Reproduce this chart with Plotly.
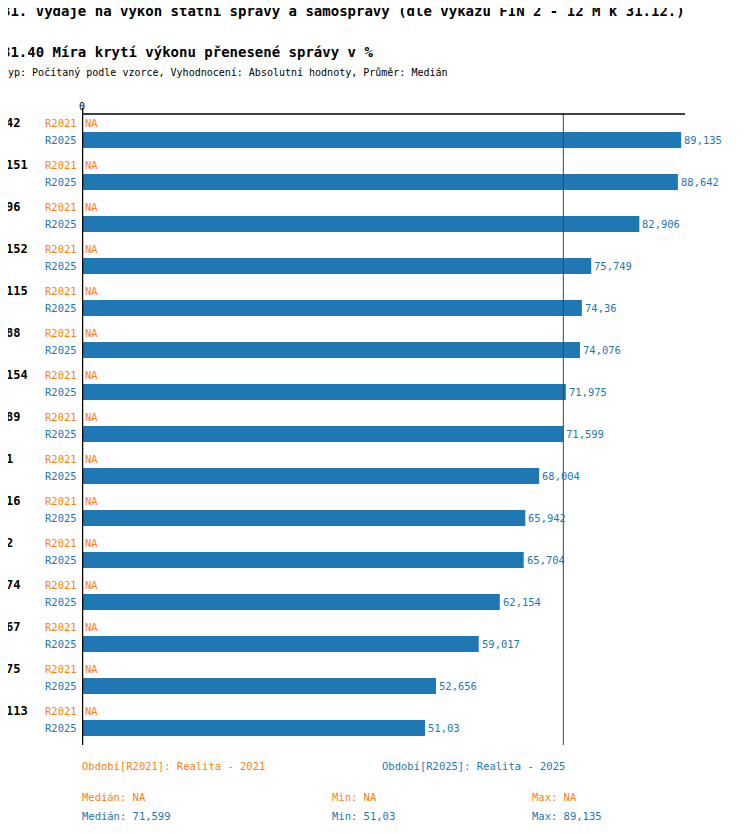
import plotly.graph_objects as go

groups = ["42","151","96","152","115","88","154","89","1","16","2","74","67","75","113"]
r2025 = [89.135,88.642,82.906,75.749,74.36,74.076,71.975,71.599,68.004,65.942,65.704,62.154,59.017,52.656,51.03]
median, vmin, vmax = 71.599, 51.03, 89.135
ORANGE = "#ff7f0e"; BLUE = "#1f77b4"
FONT = "DejaVu Sans Mono"
OFF = 17/42

def fmt(v):
    return ("%g" % v).replace(".", ",")

ys = [i + OFF for i in range(len(groups))]
fig = go.Figure(go.Bar(x=r2025, y=ys, orientation="h", width=0.38, marker_color=BLUE,
                       marker_line_width=0, hoverinfo="skip"))
ann = []
for i, g in enumerate(groups):
    ann.append(dict(x=-0.13, xref="paper", y=i, yref="y", text=g, showarrow=False, xanchor="left",
                    font=dict(family=FONT, size=12, color="black", weight="bold")))
    ann.append(dict(x=-0.005, xref="paper", y=i, yref="y", text="R2021", showarrow=False, xanchor="right",
                    font=dict(family=FONT, size=10.5, color=ORANGE)))
    ann.append(dict(x=-0.005, xref="paper", y=i + OFF, yref="y", text="R2025", showarrow=False, xanchor="right",
                    font=dict(family=FONT, size=10.5, color=BLUE)))
    ann.append(dict(x=0, y=i, text="NA", showarrow=False, xanchor="left", xshift=1,
                    font=dict(family=FONT, size=10.5, color=ORANGE)))
    ann.append(dict(x=r2025[i], y=i + OFF, text=fmt(r2025[i]), showarrow=False, xanchor="left", xshift=1,
                    font=dict(family=FONT, size=10.5, color=BLUE)))

def pt(x, y, text, color, size=10.5, bold=False):
    ann.append(dict(x=x, y=y, xref="paper", yref="paper", text=text, showarrow=False,
                    xanchor="left", yanchor="middle",
                    font=dict(family=FONT, size=size, color=color, weight="bold" if bold else "normal")))

pt(-0.136, 1.163, "31. Výdaje na výkon státní správy a samosprávy (dle výkazu FIN 2 - 12 M k 31.12.)", "black", 14, True)
pt(-0.136, 1.098, "31.40 Míra krytí výkonu přenesené správy v %", "black", 14, True)
pt(-0.136, 1.065, "Typ: Počítaný podle vzorce, Vyhodnocení: Absolutní hodnoty, Průměr: Medián", "black", 10)
pt(-0.003, -0.033, "Období[R2021]: Realita - 2021", ORANGE)
pt(0.494, -0.033, "Období[R2025]: Realita - 2025", BLUE)
pt(-0.003, -0.082, "Medián: NA", ORANGE)
pt(0.411, -0.082, "Min: NA", ORANGE)
pt(0.743, -0.082, "Max: NA", ORANGE)
pt(-0.003, -0.112, "Medián: " + fmt(median), BLUE)
pt(0.411, -0.112, "Min: " + fmt(vmin), BLUE)
pt(0.743, -0.112, "Max: " + fmt(vmax), BLUE)
ann.append(dict(x=0, y=1, xref="x", yref="paper", text="0", showarrow=False, yanchor="bottom",
                font=dict(family=FONT, size=10, color="black")))

shapes = [
    dict(type="line", x0=median, x1=median, y0=0, y1=1, yref="paper", line=dict(color="#444", width=1)),
    dict(type="line", x0=0, x1=1, xref="paper", y0=1, y1=1, yref="paper", line=dict(color="black", width=1.5)),
    dict(type="line", x0=0, x1=0, y0=0, y1=1.01, yref="paper", line=dict(color="black", width=2.5)),
]

fig.update_layout(
    width=742, height=826, plot_bgcolor="white", paper_bgcolor="white",
    margin=dict(l=74, r=65, t=106, b=89), showlegend=False,
    xaxis=dict(range=[0, 89.7], showgrid=False, showticklabels=False, zeroline=False),
    yaxis=dict(range=[14.81, -0.214], showgrid=False, showticklabels=False, zeroline=False),
    annotations=ann, shapes=shapes, font=dict(family=FONT),
)
fig.write_html("out.html")
